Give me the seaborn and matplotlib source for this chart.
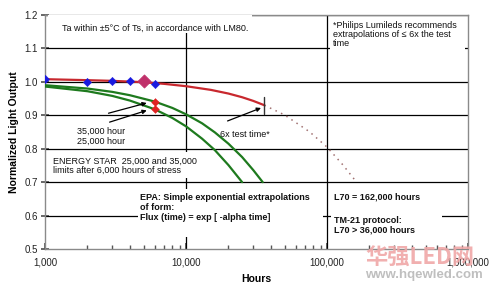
import matplotlib
matplotlib.use("Agg")
import matplotlib.pyplot as plt
import seaborn as sns
import pandas as pd
from matplotlib.patches import Rectangle
from matplotlib.ticker import FixedLocator, LogLocator, NullFormatter

# ---------------- data ----------------
fit_hours = [1000, 2000, 3000, 5000, 7000, 10000, 15000, 20000, 25000, 30000, 36000]
fit_flux = [1.008, 1.005, 1.003, 0.999, 0.994, 0.987, 0.976, 0.965, 0.954, 0.943, 0.930]

extrap_hours = [36000, 50000, 75000, 100000, 130000, 162000]
extrap_flux = [0.930, 0.901, 0.851, 0.805, 0.751, 0.700]

es35_hours = [1000, 2000, 3000, 4000, 6000, 8000, 10000, 13000, 16000, 20000, 25000, 30000, 35000]
es35_flux = [0.990, 0.980, 0.970, 0.960, 0.941, 0.922, 0.903, 0.876, 0.849, 0.815, 0.775, 0.736, 0.700]

es25_hours = [1000, 2000, 3000, 4000, 6000, 8000, 10000, 13000, 16000, 20000, 25000]
es25_flux = [0.986, 0.972, 0.958, 0.944, 0.918, 0.892, 0.867, 0.830, 0.796, 0.751, 0.700]

meas_hours = [1000, 2000, 3000, 4000, 6000]
meas_flux = [1.009, 1.000, 1.004, 1.002, 0.995]

highlight_hours = [5000]
highlight_flux = [1.002]

limit_hours = [6000, 6000]
limit_flux = [0.941, 0.919]

test_time = 36000
test_tick = [0.905, 0.955]

x_ticks = [1000, 10000, 100000, 1000000]
x_labels = ["1,000", "10,000", "100,000", "1,000,000"]
y_ticks = [0.5, 0.6, 0.7, 0.8, 0.9, 1.0, 1.1, 1.2]
y_labels = ["0.5", "0.6", "0.7", "0.8", "0.9", "1.0", "1.1", "1.2"]

# ---------------- style ----------------
sns.set_theme(style="white")
plt.rcParams["font.family"] = ["Liberation Sans", "DejaVu Sans"]

fig = plt.figure(figsize=(5.0, 2.91), dpi=100)
ax = fig.add_axes([0.09, 0.1443, 0.846, 0.8042])
ax.set_xscale("log")
ax.set_xlim(1000, 1000000)
ax.set_ylim(0.5, 1.2)

# grid lines (black, Excel-like)
for yv in y_ticks[1:]:
    ax.axhline(yv, color="black", lw=0.9, zorder=1)
for xv in x_ticks[1:3]:
    ax.axvline(xv, color="black", lw=0.9, zorder=1)

red = "#c8282e"
green = "#1e7a1e"

sns.lineplot(x=fit_hours, y=fit_flux, ax=ax, color=red, lw=1.6, zorder=4)
sns.lineplot(x=extrap_hours, y=extrap_flux, ax=ax, color="#a07070", lw=1.1,
             linestyle=(0, (1, 3)), zorder=4)
sns.lineplot(x=es35_hours, y=es35_flux, ax=ax, color=green, lw=1.6, zorder=4)
sns.lineplot(x=es25_hours, y=es25_flux, ax=ax, color=green, lw=1.6, zorder=4)
sns.scatterplot(x=meas_hours, y=meas_flux, ax=ax, color="#1a1adf", marker="D",
                s=18, edgecolor="#1a1adf", zorder=6)
sns.scatterplot(x=highlight_hours, y=highlight_flux, ax=ax, color="#c0306a", marker="D",
                s=45, edgecolor="#c0306a", zorder=7)
sns.scatterplot(x=limit_hours, y=limit_flux, ax=ax, color="#e02424", marker="D",
                s=16, edgecolor="#e02424", zorder=7)
ax.plot([test_time, test_time], test_tick, color="#333333", lw=1.0, zorder=5)

# white text boxes (axes fraction)
boxes = [
    (0.007, 0.923, 0.482, 0.080),   # Ta within ...
    (0.674, 0.816, 0.319, 0.176),   # Philips note
    (0.007, 0.303, 0.338, 0.112),   # ENERGY STAR
    (0.220, 0.051, 0.437, 0.205),   # EPA
    (0.676, 0.038, 0.263, 0.218),   # L70 / TM-21
]
for (bx, by, bw, bh) in boxes:
    ax.add_patch(Rectangle((bx, by), bw, bh, transform=ax.transAxes,
                           facecolor="white", edgecolor="none", zorder=3))

fs = 6.5
tc = "#111111"
ax.text(1320, 1.159, "Ta within \u00b15\u00b0C of Ts, in accordance with LM80.",
        fontsize=fs, color=tc, va="center", ha="left", zorder=8)
ax.text(110000, 1.183, "*Philips Lumileds recommends\nextrapolations of \u2264 6x the test\ntime",
        fontsize=fs, color=tc, va="top", ha="left", linespacing=1.0, zorder=8)
ax.text(1690, 0.837, "35,000 hour\n25,000 hour", fontsize=fs, color=tc,
        va="center", ha="left", linespacing=1.1, zorder=8)
ax.text(17400, 0.844, "6x test time*", fontsize=fs, color=tc,
        va="center", ha="left", zorder=8)
ax.text(1140, 0.748, "ENERGY STAR  25,000 and 35,000\nlimits after 6,000 hours of stress",
        fontsize=fs, color=tc, va="center", ha="left", linespacing=1.05, zorder=8)
ax.text(4720, 0.624, "EPA: Simple exponential extrapolations\nof form:\nFlux (time) = exp [ -alpha time]",
        fontsize=fs, color=tc, fontweight="bold", va="center", ha="left",
        linespacing=1.2, zorder=8)
ax.text(111600, 0.656, "L70 = 162,000 hours", fontsize=fs, color=tc,
        fontweight="bold", va="center", ha="left", zorder=8)
ax.text(111600, 0.571, "TM-21 protocol:\nL70 > 36,000 hours", fontsize=fs, color=tc,
        fontweight="bold", va="center", ha="left", linespacing=1.15, zorder=8)

arrow_kw = dict(arrowstyle="-|>", color="black", lw=0.9, mutation_scale=6)
ax.annotate("", xy=(5500, 0.939), xytext=(2700, 0.904), arrowprops=arrow_kw, zorder=8)
ax.annotate("", xy=(5500, 0.917), xytext=(2750, 0.877), arrowprops=arrow_kw, zorder=8)
ax.annotate("", xy=(35500, 0.925), xytext=(18900, 0.880), arrowprops=arrow_kw, zorder=8)

# axes / ticks
for sp in ax.spines.values():
    sp.set_color("#8a8a8a")
    sp.set_linewidth(1.0)
    sp.set_visible(True)
ax.xaxis.set_major_locator(FixedLocator(x_ticks))
ax.set_xticklabels(x_labels)
ax.xaxis.set_minor_locator(LogLocator(base=10, subs=range(2, 10)))
ax.xaxis.set_minor_formatter(NullFormatter())
ax.set_yticks(y_ticks)
ax.set_yticklabels(y_labels)
ax.tick_params(axis="x", which="major", direction="in", length=4, color="#555555",
               labelsize=7, labelcolor="#222222", pad=6, bottom=True)
ax.tick_params(axis="x", which="minor", direction="in", length=3, color="#555555",
               bottom=True)
ax.tick_params(axis="y", which="major", direction="inout", length=6, color="#555555",
               labelsize=7, labelcolor="#222222", pad=2, left=True)
ax.set_xlabel("Hours", fontsize=7.5, fontweight="bold", labelpad=5, color="black")
ax.set_ylabel("Normalized Light Output", fontsize=7.5, fontweight="bold",
              labelpad=4, color="black")

# watermark
fig.text(0.73, 0.113, "\u534e\u5f3aLED\u7f51", fontsize=16, fontweight="bold",
         color="#f0a8a8", ha="left", va="center",
         family=["Noto Sans CJK SC", "DejaVu Sans"], alpha=0.9)
fig.text(0.73, 0.056, "www.hqewled.com", fontsize=9.5, fontweight="bold",
         color="#b8b8b8", ha="left", va="center", alpha=0.9)

fig.savefig("out.png", dpi=100)
